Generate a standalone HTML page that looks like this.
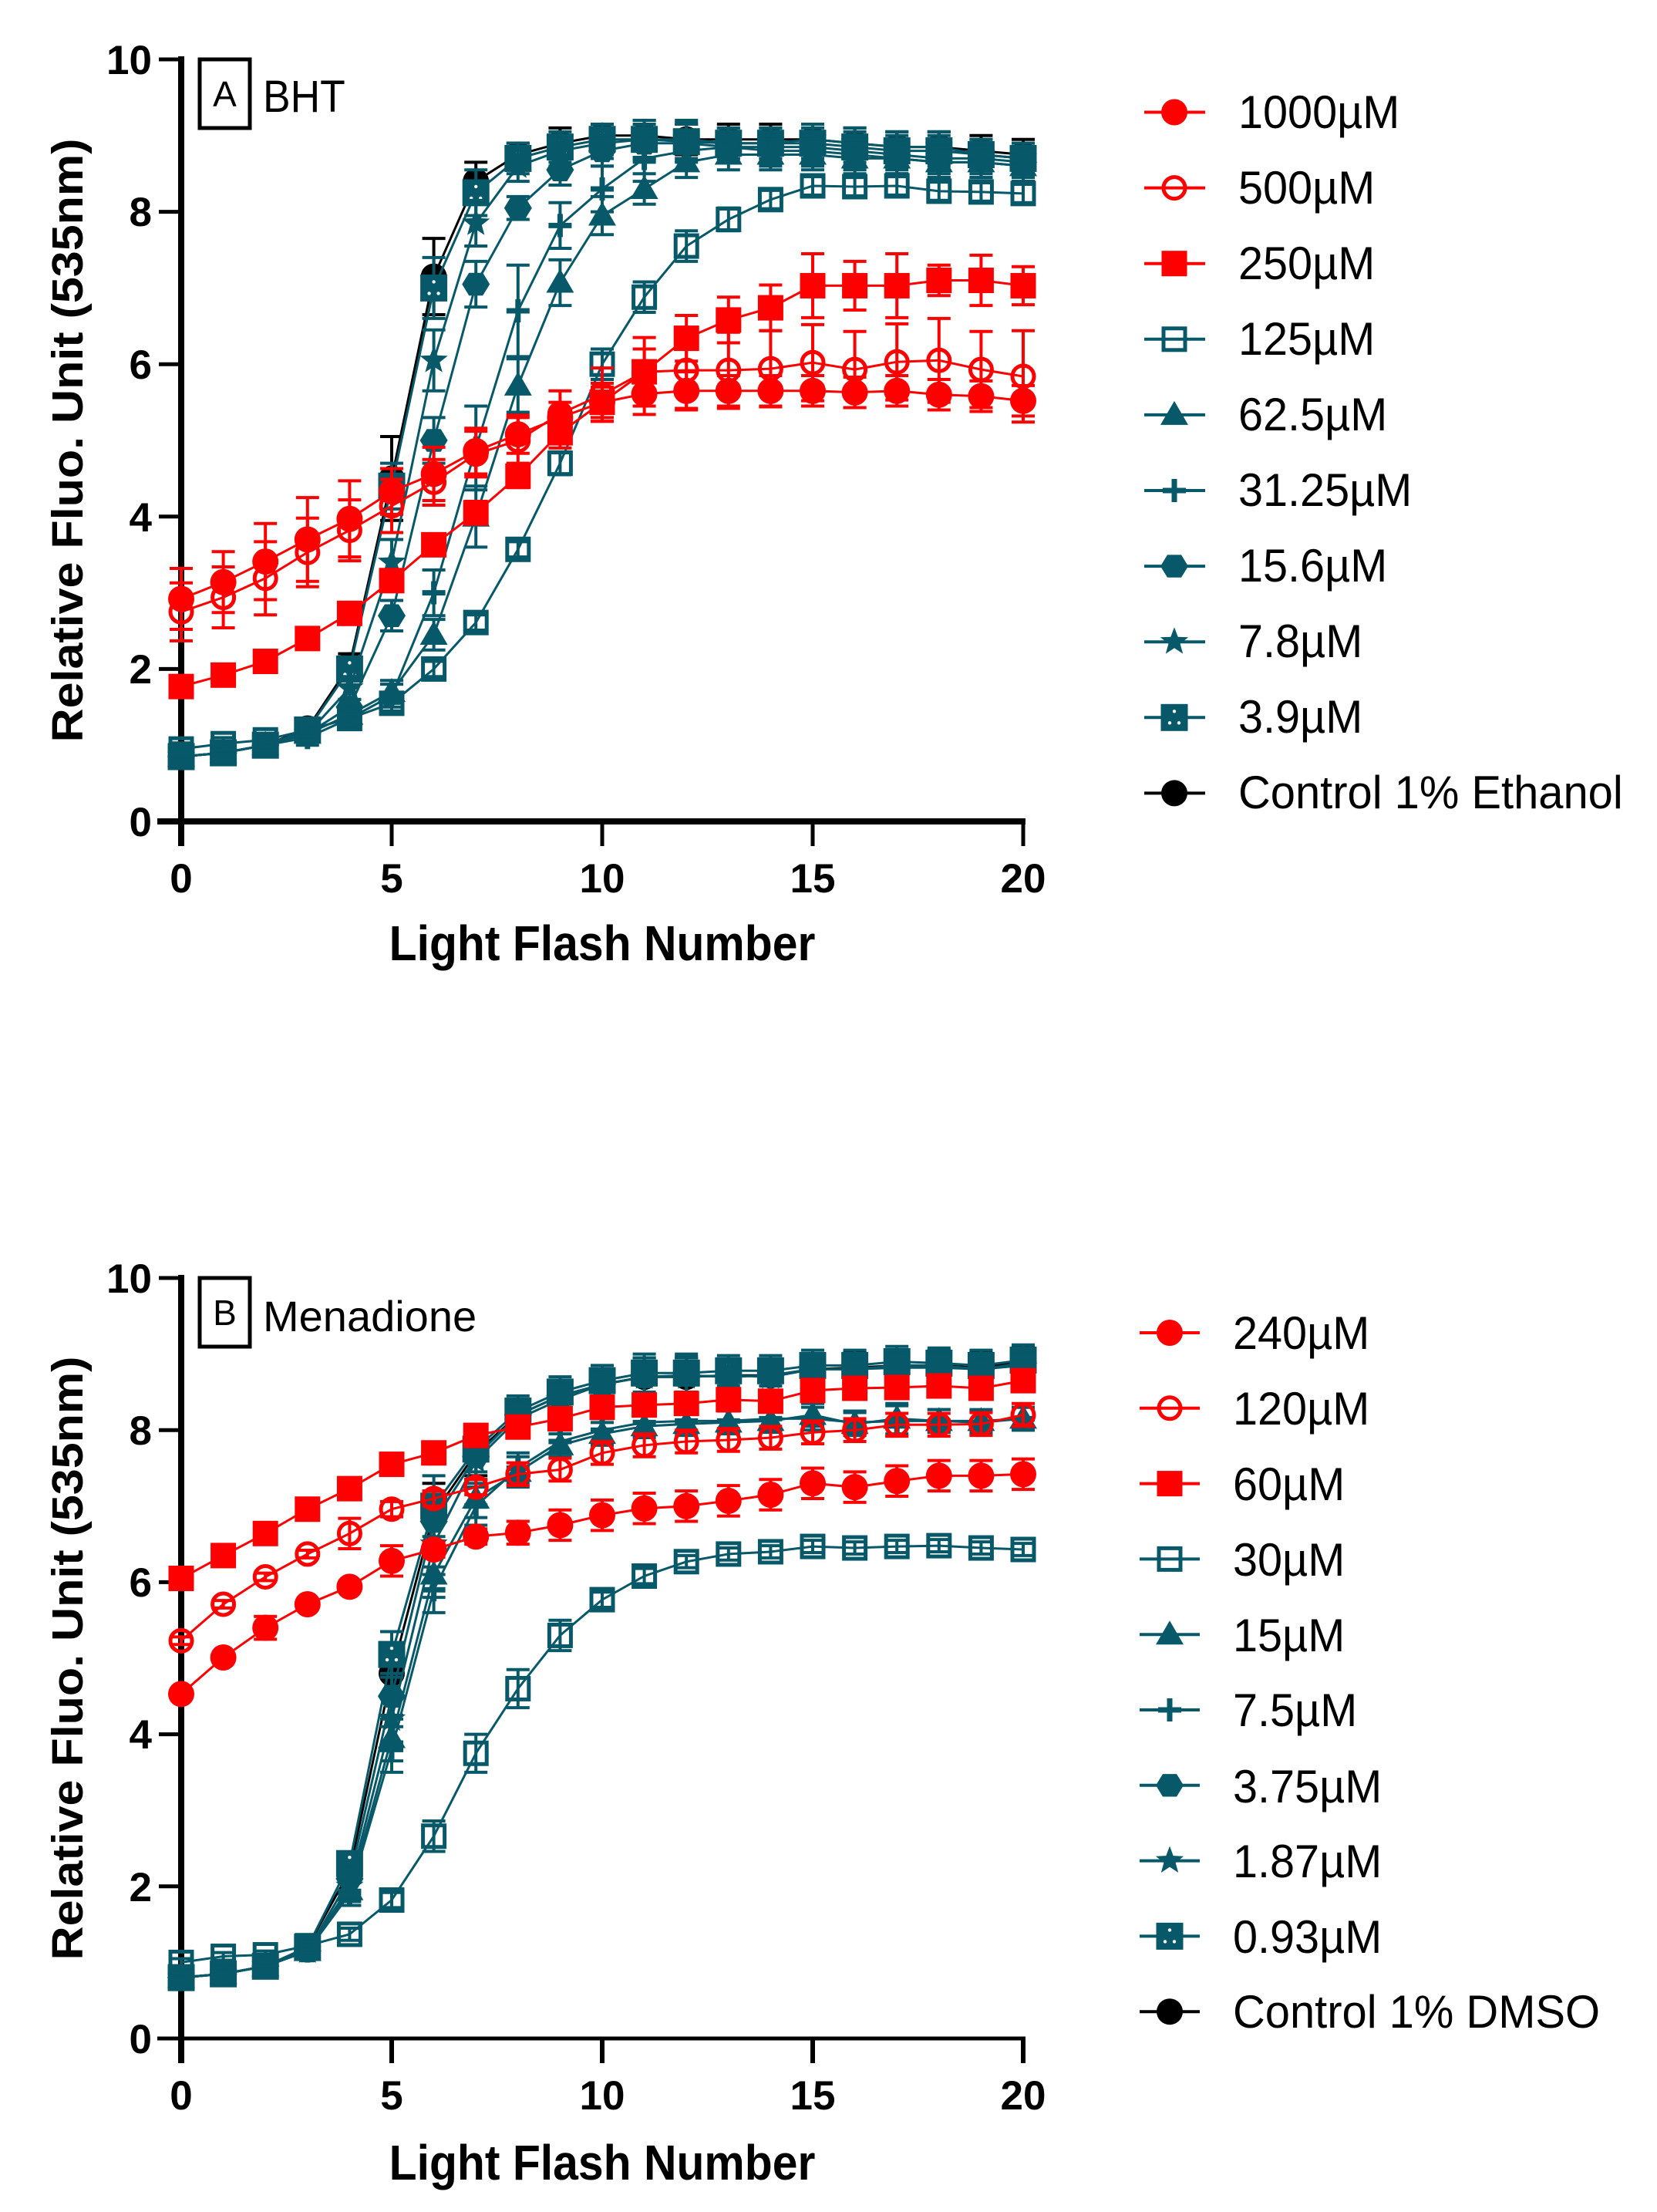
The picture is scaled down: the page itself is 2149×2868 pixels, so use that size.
<!DOCTYPE html>
<html><head><meta charset="utf-8"><style>
html,body{margin:0;padding:0;background:#fff;}
svg{display:block;}
text{font-family:"Liberation Sans",Arial,sans-serif;fill:#000;}
</style></head><body>
<svg id="c" width="2149" height="2868" viewBox="0 0 2149 2868" xmlns="http://www.w3.org/2000/svg">
<rect width="2149" height="2868" fill="#fff"/>
<!-- Axes A -->
<g stroke="#000" fill="none">
<line x1="235" y1="73" x2="235" y2="1097" stroke-width="8"/>
<line x1="204" y1="1065" x2="1330" y2="1065" stroke-width="8"/>
<line x1="206" y1="77" x2="235" y2="77" stroke-width="5"/>
<line x1="206" y1="274.6" x2="235" y2="274.6" stroke-width="5"/>
<line x1="206" y1="472.2" x2="235" y2="472.2" stroke-width="5"/>
<line x1="206" y1="669.8" x2="235" y2="669.8" stroke-width="5"/>
<line x1="206" y1="867.4" x2="235" y2="867.4" stroke-width="5"/>
<line x1="508" y1="1065" x2="508" y2="1097" stroke-width="5"/>
<line x1="781" y1="1065" x2="781" y2="1097" stroke-width="5"/>
<line x1="1054" y1="1065" x2="1054" y2="1097" stroke-width="5"/>
<line x1="1327" y1="1065" x2="1327" y2="1097" stroke-width="5"/>
<rect x="259" y="77" width="65" height="89" stroke-width="5"/>
</g>
<g font-size="53" font-weight="bold" text-anchor="end">
<text x="197" y="96">10</text>
<text x="197" y="293">8</text>
<text x="197" y="491">6</text>
<text x="197" y="689">4</text>
<text x="197" y="886">2</text>
<text x="197" y="1084">0</text>
</g>
<g font-size="53" font-weight="bold" text-anchor="middle">
<text x="235" y="1157">0</text>
<text x="508" y="1157">5</text>
<text x="781" y="1157">10</text>
<text x="1054" y="1157">15</text>
<text x="1327" y="1157">20</text>
</g>
<text transform="translate(107,571) scale(0.92,1) rotate(-90)" text-anchor="middle" font-weight="bold" font-size="61">Relative Fluo. Unit (535nm)</text>
<text transform="translate(781,1245) scale(0.92,1)" text-anchor="middle" font-weight="bold" font-size="64">Light Flash Number</text>
<text x="291.5" y="138" text-anchor="middle" font-size="46">A</text>
<text transform="translate(341,145) scale(0.92,1)" font-size="58">BHT</text>

<!-- Axes B -->
<g stroke="#000" fill="none">
<line x1="235" y1="1653" x2="235" y2="2675" stroke-width="8"/>
<line x1="204" y1="2643" x2="1330" y2="2643" stroke-width="5"/>
<line x1="206" y1="1657" x2="235" y2="1657" stroke-width="5"/>
<line x1="206" y1="1854.2" x2="235" y2="1854.2" stroke-width="5"/>
<line x1="206" y1="2051.4" x2="235" y2="2051.4" stroke-width="5"/>
<line x1="206" y1="2248.6" x2="235" y2="2248.6" stroke-width="5"/>
<line x1="206" y1="2445.8" x2="235" y2="2445.8" stroke-width="5"/>
<line x1="508" y1="2643" x2="508" y2="2675" stroke-width="6"/>
<line x1="781" y1="2643" x2="781" y2="2675" stroke-width="6"/>
<line x1="1054" y1="2643" x2="1054" y2="2675" stroke-width="6"/>
<line x1="1327" y1="2643" x2="1327" y2="2675" stroke-width="6"/>
<rect x="259" y="1657" width="65" height="89" stroke-width="5"/>
</g>
<g font-size="53" font-weight="bold" text-anchor="end">
<text x="197" y="1676">10</text>
<text x="197" y="1873">8</text>
<text x="197" y="2070">6</text>
<text x="197" y="2267">4</text>
<text x="197" y="2465">2</text>
<text x="197" y="2662">0</text>
</g>
<g font-size="53" font-weight="bold" text-anchor="middle">
<text x="235" y="2735">0</text>
<text x="508" y="2735">5</text>
<text x="781" y="2735">10</text>
<text x="1054" y="2735">15</text>
<text x="1327" y="2735">20</text>
</g>
<text transform="translate(107,2150) scale(0.92,1) rotate(-90)" text-anchor="middle" font-weight="bold" font-size="61">Relative Fluo. Unit (535nm)</text>
<text transform="translate(781,2826) scale(0.92,1)" text-anchor="middle" font-weight="bold" font-size="64">Light Flash Number</text>
<text x="291.5" y="1718" text-anchor="middle" font-size="46">B</text>
<text x="341" y="1726" font-size="56">Menadione</text>

<!-- Legend A text -->
<g font-size="60" fill="#111">
<text transform="translate(1606,166) scale(0.96,1)">1000µM</text>
<text transform="translate(1606,264) scale(0.96,1)">500µM</text>
<text transform="translate(1606,362) scale(0.96,1)">250µM</text>
<text transform="translate(1606,460) scale(0.96,1)">125µM</text>
<text transform="translate(1606,558) scale(0.96,1)">62.5µM</text>
<text transform="translate(1606,656) scale(0.96,1)">31.25µM</text>
<text transform="translate(1606,754) scale(0.96,1)">15.6µM</text>
<text transform="translate(1606,852) scale(0.96,1)">7.8µM</text>
<text transform="translate(1606,950) scale(0.96,1)">3.9µM</text>
<text transform="translate(1606,1048) scale(0.965,1)">Control 1% Ethanol</text>
</g>
<!-- Legend B text -->
<g font-size="60" fill="#111">
<text transform="translate(1599,1749) scale(0.96,1)">240µM</text>
<text transform="translate(1599,1847) scale(0.96,1)">120µM</text>
<text transform="translate(1599,1945) scale(0.96,1)">60µM</text>
<text transform="translate(1599,2043) scale(0.96,1)">30µM</text>
<text transform="translate(1599,2141) scale(0.96,1)">15µM</text>
<text transform="translate(1599,2238) scale(0.96,1)">7.5µM</text>
<text transform="translate(1599,2337) scale(0.96,1)">3.75µM</text>
<text transform="translate(1599,2434) scale(0.96,1)">1.87µM</text>
<text transform="translate(1599,2532) scale(0.96,1)">0.93µM</text>
<text transform="translate(1599,2629) scale(0.965,1)">Control 1% DMSO</text>
</g>
<g id="data"></g>
</svg>
<script>
(function(){
var NS="http://www.w3.org/2000/svg";
var T="#075868", R="#ff0000", K="#000000";
var g=document.getElementById("data");
function el(n,a,p){var e=document.createElementNS(NS,n);for(var k in a)e.setAttribute(k,a[k]);(p||g).appendChild(e);return e;}
function marker(type,x,y,c){
  switch(type){
    case "circle": el("circle",{cx:x,cy:y,r:17,fill:c});break;
    case "ocircle": el("circle",{cx:x,cy:y,r:14,fill:"none",stroke:c,"stroke-width":5});break;
    case "square": el("rect",{x:x-16.5,y:y-16.5,width:33,height:33,fill:c});break;
    case "osquare": el("rect",{x:x-14,y:y-14,width:28,height:28,fill:"none",stroke:c,"stroke-width":5});break;
    case "dsquare": el("rect",{x:x-17.5,y:y-17.5,width:35,height:35,fill:c});
      el("circle",{cx:x,cy:y-8,r:2.2,fill:"#fff"});el("circle",{cx:x-6,cy:y+7,r:2.2,fill:"#fff"});el("circle",{cx:x+6,cy:y+7,r:2.2,fill:"#fff"});break;
    case "tri": el("polygon",{points:(x)+","+(y-18)+" "+(x+18)+","+(y+13)+" "+(x-18)+","+(y+13),fill:c});break;
    case "plus": el("line",{x1:x-15,y1:y,x2:x+15,y2:y,stroke:c,"stroke-width":7});el("line",{x1:x,y1:y-15,x2:x,y2:y+15,stroke:c,"stroke-width":7});break;
    case "hex": var p=[];for(var i=0;i<6;i++){var a=i*Math.PI/3;p.push((x+18*Math.cos(a)).toFixed(1)+","+(y+17*Math.sin(a)).toFixed(1));}el("polygon",{points:p.join(" "),fill:c});break;
    case "star": var q=[];for(var j=0;j<10;j++){var rr=(j%2==0)?19:8;var b=-Math.PI/2+j*Math.PI/5;q.push((x+rr*Math.cos(b)).toFixed(1)+","+(y+rr*Math.sin(b)).toFixed(1));}el("polygon",{points:q.join(" "),fill:c});break;
  }
}
function X(i){return 235+i*54.6;}
function series(Y,type,c,v,e){
  var pts=[];
  for(var i=0;i<v.length;i++){
    var x=X(i),y=Y(v[i]);pts.push(x.toFixed(1)+","+y.toFixed(1));
    var er=e?e[i]:0.12;
    var y1=Y(v[i]+er),y2=Y(v[i]-er);
    el("line",{x1:x,y1:y1,x2:x,y2:y2,stroke:c,"stroke-width":4});
    el("line",{x1:x-15,y1:y1,x2:x+15,y2:y1,stroke:c,"stroke-width":4});
    el("line",{x1:x-15,y1:y2,x2:x+15,y2:y2,stroke:c,"stroke-width":4});
  }
  el("polyline",{points:pts.join(" "),fill:"none",stroke:c,"stroke-width":3});
  for(var k=0;k<v.length;k++){marker(type,X(k),Y(v[k]),c);}
}
function YA(v){return 1065-v*98.8;}
function YB(v){return 2643-v*98.6;}
var tE=[0.1,0.1,0.1,0.1,0.15,0.3,0.4,0.3,0.2,0.2,0.2,0.25,0.25,0.2,0.2,0.2,0.2,0.2,0.2,0.2,0.2];
// Panel A
series(YA,"circle",K,[0.85,0.9,1.0,1.22,2.05,4.5,7.15,8.4,8.75,8.9,9.0,9.0,8.95,8.95,8.95,8.95,8.9,8.85,8.85,8.8,8.75],[0.1,0.1,0.1,0.1,0.15,0.55,0.5,0.25,0.15,0.2,0.15,0.2,0.2,0.2,0.2,0.2,0.2,0.2,0.2,0.2,0.2]);
series(YA,"dsquare",T,[0.85,0.9,1.0,1.2,2.0,4.4,7.0,8.25,8.7,8.85,8.95,8.95,8.92,8.9,8.9,8.9,8.85,8.8,8.8,8.75,8.7],tE);
series(YA,"star",T,[0.85,0.9,1.0,1.15,1.75,3.4,6.05,7.85,8.6,8.8,8.9,8.95,8.95,8.9,8.9,8.95,8.9,8.85,8.85,8.75,8.7],tE);
series(YA,"hex",T,[0.85,0.9,1.0,1.15,1.5,2.7,5.0,7.05,8.05,8.55,8.8,8.9,8.9,8.85,8.85,8.85,8.8,8.75,8.7,8.7,8.65],[0.1,0.1,0.1,0.1,0.1,0.2,0.3,0.3,0.15,0.2,0.2,0.25,0.25,0.2,0.2,0.2,0.2,0.2,0.2,0.2,0.2]);
series(YA,"plus",T,[0.85,0.9,1.0,1.1,1.35,1.65,3.0,4.9,6.7,7.82,8.3,8.7,8.8,8.85,8.8,8.8,8.75,8.7,8.65,8.65,8.6],[0.1,0.1,0.1,0.1,0.1,0.15,0.3,0.55,0.6,0.3,0.3,0.3,0.25,0.2,0.2,0.2,0.2,0.2,0.2,0.2,0.2]);
series(YA,"tri",T,[0.85,0.9,1.0,1.15,1.4,1.7,2.45,4.0,5.72,7.07,7.95,8.3,8.65,8.75,8.75,8.75,8.7,8.7,8.65,8.65,8.6],[0.1,0.1,0.1,0.1,0.1,0.15,0.2,0.4,0.35,0.3,0.25,0.2,0.2,0.2,0.2,0.2,0.2,0.2,0.2,0.2,0.2]);
series(YA,"osquare",T,[0.95,1.02,1.07,1.2,1.35,1.55,2.0,2.61,3.57,4.7,6.0,6.88,7.55,7.9,8.16,8.34,8.33,8.34,8.27,8.26,8.24],[0.08,0.08,0.08,0.08,0.1,0.1,0.1,0.1,0.1,0.15,0.2,0.2,0.2,0.15,0.12,0.12,0.12,0.12,0.12,0.12,0.12]);
series(YA,"square",R,[1.77,1.92,2.1,2.4,2.73,3.16,3.63,4.05,4.53,5.1,5.5,5.9,6.34,6.58,6.74,7.03,7.03,7.03,7.1,7.1,7.03],[0.1,0.1,0.1,0.1,0.1,0.1,0.1,0.15,0.15,0.2,0.2,0.3,0.3,0.3,0.3,0.42,0.32,0.42,0.2,0.33,0.25]);
series(YA,"ocircle",R,[2.75,2.94,3.19,3.53,3.82,4.14,4.45,4.82,5.0,5.35,5.6,5.9,5.92,5.92,5.94,6.02,5.93,6.03,6.05,5.93,5.84],[0.38,0.4,0.48,0.45,0.4,0.35,0.3,0.3,0.3,0.3,0.35,0.45,0.5,0.5,0.5,0.5,0.5,0.5,0.55,0.5,0.6]);
series(YA,"circle",R,[2.92,3.14,3.41,3.7,3.97,4.33,4.56,4.86,5.08,5.3,5.5,5.61,5.65,5.65,5.65,5.65,5.63,5.65,5.6,5.58,5.52],[0.4,0.4,0.5,0.55,0.5,0.3,0.35,0.3,0.25,0.2,0.25,0.27,0.25,0.2,0.2,0.2,0.2,0.2,0.2,0.2,0.2]);
// Panel B
series(YB,"circle",K,[0.8,0.85,0.95,1.2,2.2,4.8,6.9,7.7,8.2,8.45,8.6,8.7,8.7,8.72,8.72,8.8,8.82,8.85,8.85,8.82,8.9],tE);
series(YB,"dsquare",T,[0.8,0.85,0.95,1.2,2.3,5.05,7.0,7.75,8.25,8.5,8.65,8.75,8.75,8.78,8.78,8.85,8.85,8.9,8.88,8.85,8.92],tE);
series(YB,"star",T,[0.8,0.85,0.95,1.15,2.0,4.2,6.5,7.6,8.15,8.4,8.6,8.7,8.7,8.72,8.7,8.8,8.8,8.82,8.82,8.8,8.85],tE);
series(YB,"hex",T,[0.8,0.85,0.95,1.15,2.1,4.5,6.8,7.65,8.2,8.45,8.6,8.7,8.72,8.7,8.72,8.8,8.8,8.85,8.85,8.8,8.88],tE);
series(YB,"plus",T,[0.8,0.85,0.95,1.15,1.9,3.8,5.9,7.0,7.5,7.85,8.0,8.1,8.12,8.12,8.15,8.15,8.1,8.12,8.12,8.1,8.15],[0.1,0.1,0.1,0.1,0.15,0.3,0.3,0.25,0.2,0.15,0.15,0.15,0.15,0.15,0.15,0.15,0.15,0.2,0.15,0.15,0.15]);
series(YB,"tri",T,[0.8,0.85,0.95,1.15,1.95,3.95,6.1,7.1,7.45,7.8,7.95,8.05,8.08,8.1,8.12,8.2,8.08,8.15,8.12,8.12,8.15],[0.1,0.1,0.1,0.1,0.15,0.3,0.3,0.25,0.2,0.15,0.15,0.15,0.15,0.15,0.15,0.15,0.15,0.2,0.15,0.15,0.15]);
series(YB,"osquare",T,[1.0,1.08,1.1,1.22,1.37,1.82,2.66,3.75,4.6,5.3,5.77,6.08,6.27,6.37,6.4,6.47,6.45,6.47,6.48,6.45,6.43],[0.05,0.05,0.05,0.05,0.08,0.1,0.2,0.25,0.25,0.2,0.1,0.1,0.08,0.08,0.08,0.08,0.08,0.08,0.08,0.08,0.08]);
series(YB,"square",R,[6.05,6.35,6.64,6.96,7.23,7.55,7.7,7.93,8.04,8.15,8.3,8.33,8.35,8.4,8.38,8.52,8.55,8.56,8.58,8.55,8.65],[0.05,0.05,0.05,0.05,0.05,0.05,0.05,0.05,0.08,0.08,0.1,0.1,0.1,0.1,0.1,0.1,0.12,0.12,0.12,0.1,0.12]);
series(YB,"ocircle",R,[5.23,5.71,6.07,6.37,6.64,6.96,7.1,7.25,7.42,7.48,7.7,7.8,7.85,7.87,7.9,7.97,8.0,8.07,8.07,8.08,8.2],[0.05,0.05,0.05,0.05,0.2,0.1,0.1,0.1,0.15,0.15,0.15,0.15,0.15,0.15,0.15,0.15,0.15,0.15,0.15,0.15,0.15]);
series(YB,"circle",R,[4.53,5.01,5.4,5.71,5.94,6.28,6.43,6.6,6.65,6.75,6.88,6.97,7.0,7.07,7.15,7.3,7.25,7.33,7.4,7.4,7.42],[0.05,0.05,0.15,0.05,0.05,0.2,0.1,0.1,0.15,0.2,0.2,0.2,0.2,0.2,0.2,0.2,0.2,0.2,0.2,0.2,0.2]);
// Legends
function leg(x1,x2,xm,y,type,c){el("line",{x1:x1,y1:y,x2:x2,y2:y,stroke:c,"stroke-width":4});marker(type,xm,y,c);}
var la=[["circle",R],["ocircle",R],["square",R],["osquare",T],["tri",T],["plus",T],["hex",T],["star",T],["dsquare",T],["circle",K]];
for(var i=0;i<10;i++){leg(1484,1563,1523,145.5+98.1*i,la[i][0],la[i][1]);}
for(var j=0;j<10;j++){leg(1478,1556,1517,1728+97.8*j,la[j][0],la[j][1]);}
})();
</script>
</body></html>
